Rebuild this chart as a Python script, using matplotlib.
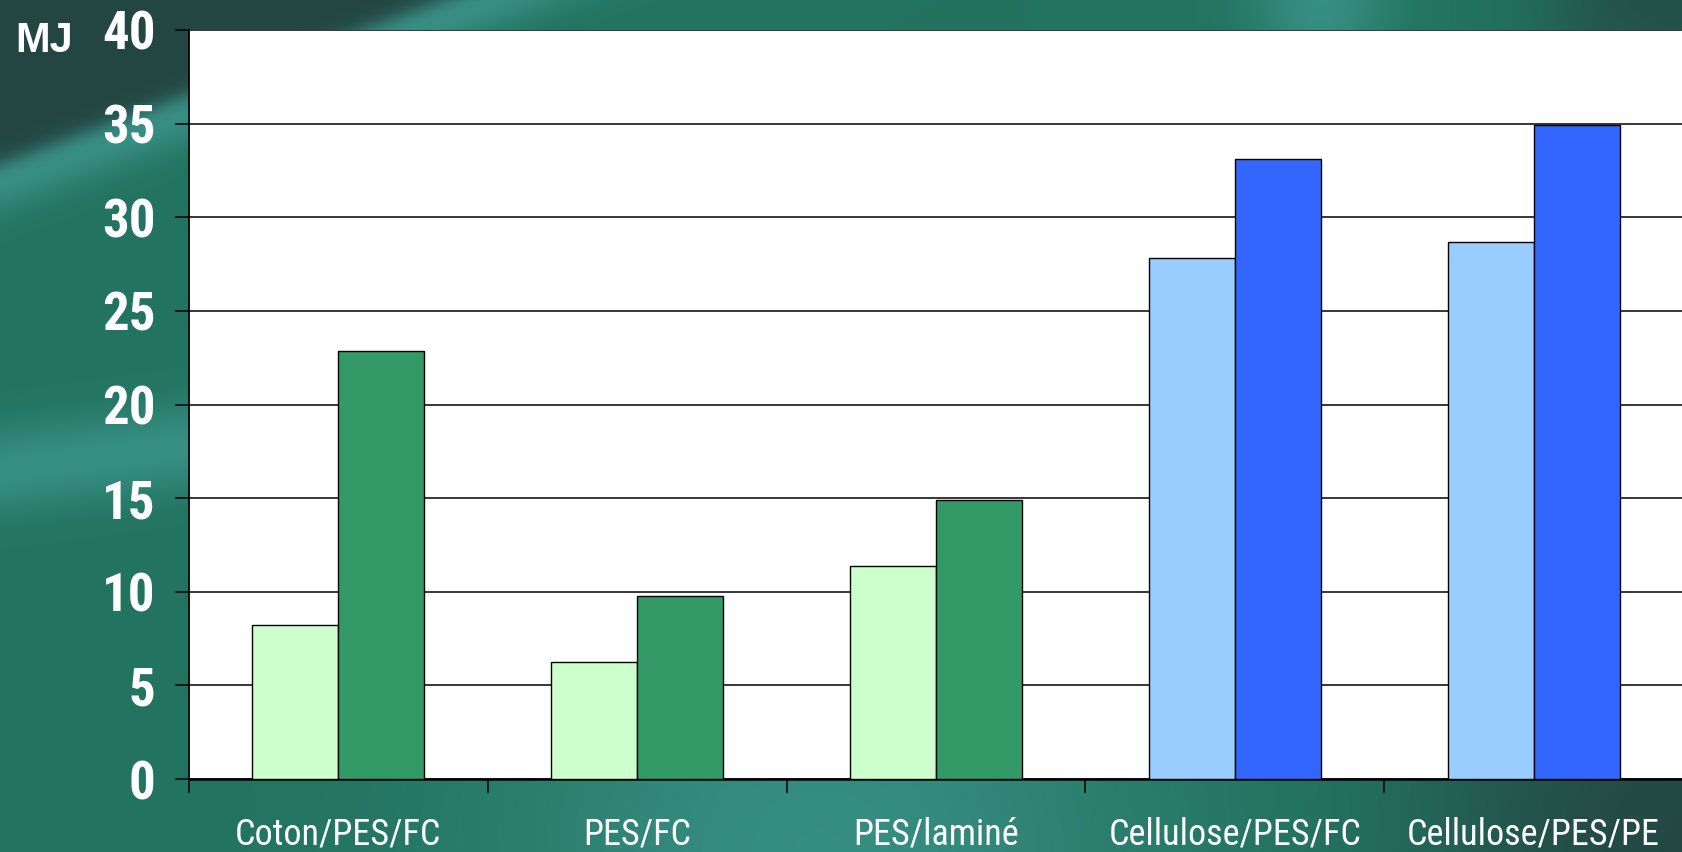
import numpy as np
import matplotlib.pyplot as plt
from matplotlib.ticker import FixedLocator

# energie par produit (MJ), deux variantes par produit
categories = ['Coton/PES/FC', 'PES/FC', 'PES/laminé', 'Cellulose/PES/FC', 'Cellulose/PES/PE']
valeurs_a = [8.2, 6.25, 11.4, 27.8, 28.7]
valeurs_b = [22.85, 9.75, 14.9, 33.1, 34.9]
couleurs_a = ['#CCFFCC', '#CCFFCC', '#CCFFCC', '#99CCFF', '#99CCFF']
couleurs_b = ['#339966', '#339966', '#339966', '#3366FF', '#3366FF']
graduations = [0, 5, 10, 15, 20, 25, 30, 35, 40]

W, H = 1683, 852
fig = plt.figure(figsize=(W / 100, H / 100), dpi=100)

# fond vert degradé avec bandes diagonales
yy, xx = np.mgrid[0:H, 0:W].astype(float)
base = np.array([34, 115, 95]) / 255
fonce = np.array([36, 70, 66]) / 255
clair = np.array([58, 146, 136]) / 255
img = np.ones((H, W, 3)) * base

def melange(img, col, w):
    return img * (1 - w[..., None]) + col * w[..., None]

d1 = yy - (163 - 0.37 * xx)
w_clair = np.exp(-((d1 - 12) / 38) ** 2)
d2 = yy - (470 - 0.13 * xx)
w_clair = np.maximum(w_clair, 0.9 * np.exp(-(d2 / 45) ** 2) * (xx < 260))
bas = 1 / (1 + np.exp(-(yy - 700) / 30))
w_clair = np.maximum(w_clair, bas * 0.85 * np.exp(-((xx - 820) / 330) ** 2))
haut = 1 / (1 + np.exp((yy - 60) / 15))
w_clair = np.maximum(w_clair, haut * 0.9 * np.exp(-((xx - 1320) / 70) ** 2))
img = melange(img, clair, w_clair)

w_fonce = 1 / (1 + np.exp(d1 / 6))
w_fonce = np.maximum(w_fonce, bas / (1 + np.exp(-(xx - 1470) / 70)))
w_fonce = np.maximum(w_fonce, haut * 0.8 / (1 + np.exp(-(xx - 1560) / 30)))
img = melange(img, fonce, w_fonce)

fond = fig.add_axes([0, 0, 1, 1], zorder=-1)
fond.imshow(img, aspect='auto', interpolation='bilinear')
fond.axis('off')

ax = fig.add_axes([189 / W, 73 / H, (W - 189) / W, 749 / H])
ax.set_facecolor('white')

x = np.arange(len(categories)) + 0.5
largeur = 0.288
ax.bar(x - largeur / 2, valeurs_a, largeur, color=couleurs_a, edgecolor='black', linewidth=1.0, zorder=3)
ax.bar(x + largeur / 2, valeurs_b, largeur, color=couleurs_b, edgecolor='black', linewidth=1.0, zorder=3)

ax.set_xlim(0, len(categories))
ax.set_ylim(0, 40)
ax.set_yticks(graduations)
ax.yaxis.grid(True, color='black', linewidth=1.1)
ax.set_axisbelow(True)

police_etroite = ['Roboto Condensed', 'DejaVu Sans']
ax.set_yticklabels([str(g) for g in graduations], family=police_etroite,
                   fontweight='bold', fontsize=38, color='white')
ax.tick_params(axis='y', direction='out', length=10, width=1.1, pad=14, color='black')

ax.xaxis.set_major_locator(FixedLocator([0, 1, 2, 3, 4]))
ax.xaxis.set_minor_locator(FixedLocator(x))
ax.set_xticklabels([], minor=False)
ax.set_xticklabels(categories, minor=True, family=police_etroite, fontsize=26, color='white')
ax.tick_params(axis='x', which='major', direction='out', length=10, width=1.1, color='black')
ax.tick_params(axis='x', which='minor', length=0, pad=27)

for cote in ['top', 'right']:
    ax.spines[cote].set_visible(False)
ax.spines['left'].set_linewidth(1.3)
ax.spines['bottom'].set_linewidth(1.8)

fig.text(15 / W, 1 - 52 / H, 'MJ', family=['Liberation Sans', 'DejaVu Sans'],
         fontweight='bold', fontsize=30, color='white', ha='left', va='baseline')

fig.savefig('out.png', dpi=100)
